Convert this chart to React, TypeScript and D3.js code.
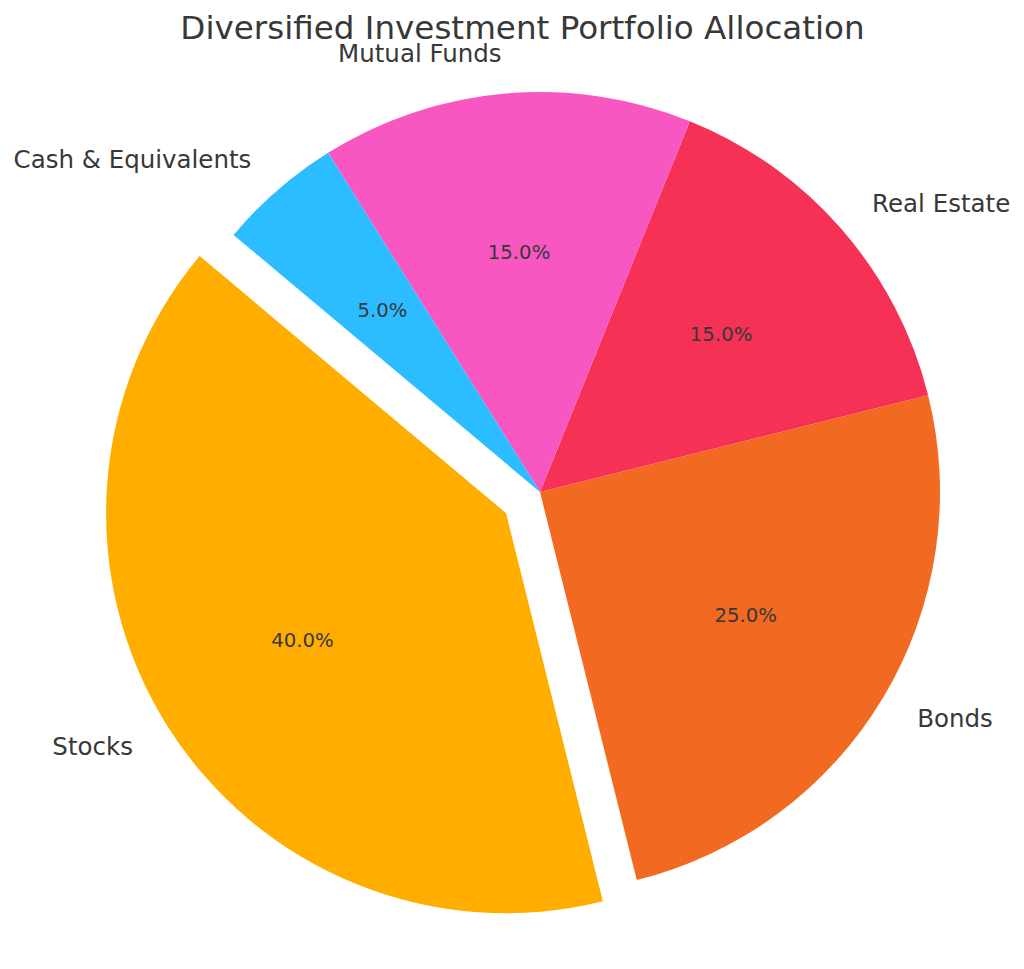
import React from "react";
import * as d3 from "d3";

const categories = ["Stocks", "Bonds", "Real Estate", "Mutual Funds", "Cash & Equivalents"];
const values = [40, 25, 15, 15, 5];
const colors = ["#FFAE00", "#F26A22", "#F53255", "#F857C2", "#2BBDFF"];
const explode = [0.1, 0, 0, 0, 0];
const title = "Diversified Investment Portfolio Allocation";

const W = 1024;
const H = 969;
const cx = 540;
const cy = 492;
const R = 400;
const startDeg = 140; // matplotlib-style start angle (ccw from 3 o'clock)

export default function App() {
  const toRad = (d: number) => (d * Math.PI) / 180;
  const pie = d3
    .pie<number>()
    .sort(null)
    .value((d) => d)
    .startAngle(toRad(90 - startDeg))
    .endAngle(toRad(90 - startDeg - 360));
  const arcs = pie(values);
  const arc = d3.arc<d3.PieArcDatum<number>>().innerRadius(0).outerRadius(R);
  const font = "DejaVu Sans, sans-serif";

  return (
    <svg width={W} height={H} style={{ position: "absolute", left: 0, top: 0 }}>
      <rect width={W} height={H} fill="#fff" />
      {arcs.map((a, i) => {
        const mid = (a.startAngle + a.endAngle) / 2;
        const ux = Math.sin(mid);
        const uy = -Math.cos(mid);
        const ox = cx + explode[i] * R * ux;
        const oy = cy + explode[i] * R * uy;
        const lx = ox + 1.1 * R * ux;
        const ly = oy + 1.1 * R * uy;
        const px = ox + 0.6 * R * ux;
        const py = oy + 0.6 * R * uy;
        return (
          <g key={categories[i]}>
            <path d={arc(a) || ""} transform={`translate(${ox},${oy})`} fill={colors[i]} />
            <text x={lx} y={ly} textAnchor={ux < 0 ? "end" : "start"} dominantBaseline="central" fontFamily={font} fontSize={24.5} fill="#383838">
              {categories[i]}
            </text>
            <text x={px} y={py} textAnchor="middle" dominantBaseline="central" fontFamily={font} fontSize={19.7} fill="#383838">
              {values[i].toFixed(1)}%
            </text>
          </g>
        );
      })}
      <text x={522.5} y={39} textAnchor="middle" fontFamily={font} fontSize={32.6} fill="#383838">
        {title}
      </text>
    </svg>
  );
}
